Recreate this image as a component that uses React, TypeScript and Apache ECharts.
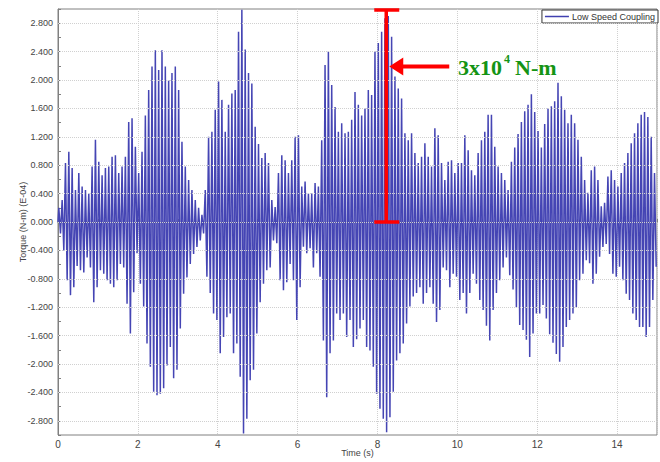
import React, { useEffect, useRef } from "react";
import * as echarts from "echarts";

// Oscillation extremes, 12 cycles per second.
// Positive peaks (E-04 N-m), seconds 0-4, 5-9, 10-14
const peaksA = [
  0.2, 0.31, 0.83, 0.99, 0.76, 0.45, 0.69, 0.5, 0.45, 0.4, 0.78, 1.16,
  0.85, 0.66, 0.76, 0.78, 0.92, 0.94, 0.69, 0.78, 0.92, 1.41, 1.46, 1.06,
  0.69, 0.99, 1.5, 1.86, 2.19, 2.42, 2.14, 2.42, 2.19, 2.0, 2.1, 2.19,
  1.86, 1.13, 0.78, 0.59, 0.45, 0.31, 0.2, 0.1, 0.45, 1.2, 1.27, 1.58,
  1.98, 1.72, 1.27, 1.65, 1.81, 1.86, 2.68, 2.99, 2.43, 2.1, 1.95, 1.34,
];
const peaksB = [
  1.1, 0.9, 0.97, 0.83, 0.31, 0.21, 0.69, 0.94, 0.87, 0.69, 0.87, 1.2,
  1.22, 0.5, 0.57, 0.4, 0.4, 0.55, 0.5, 1.15, 2.21, 2.4, 1.93, 1.62,
  1.27, 1.39, 1.25, 1.27, 1.44, 1.83, 1.65, 1.5, 1.6, 1.86, 1.79, 2.4,
  2.52, 2.68, 2.87, 2.9, 2.61, 2.05, 1.88, 1.74, 1.25, 1.15, 1.25, 0.97,
  0.83, 0.92, 1.11, 0.92, 0.78, 1.32, 1.22, 0.83, 0.59, 0.85, 0.87, 0.69,
];
const peaksC = [
  0.83, 0.83, 1.22, 1.01, 0.73, 0.66, 0.97, 1.15, 1.27, 1.51, 1.51, 1.06,
  0.78, 0.69, 0.59, 0.45, 0.85, 1.05, 1.24, 1.41, 1.56, 1.65, 1.8, 1.55,
  1.28, 1.05, 1.38, 1.6, 1.63, 1.7, 1.96, 1.77, 1.58, 1.39, 1.51, 1.39,
  1.16, 0.92, 0.59, 0.41, 0.73, 0.78, 0.59, 0.22, 0.27, 0.64, 0.73, 0.59,
  0.5, 0.69, 0.83, 0.97, 1.11, 1.25, 1.39, 1.51, 1.55, 1.48, 1.2, 0.69,
];
// Negative troughs
const troughsA = [
  -0.16, -0.4, -0.82, -1.03, -0.92, -0.62, -0.68, -0.71, -0.5, -0.64, -1.13, -0.92,
  -0.68, -0.73, -0.82, -0.87, -0.92, -0.82, -0.59, -0.64, -1.15, -1.57, -0.99, -0.44,
  -0.87, -1.19, -1.71, -2.04, -2.39, -2.44, -2.42, -2.34, -2.02, -1.76, -2.2, -2.08,
  -1.5, -1.01, -0.78, -0.59, -0.45, -0.35, -0.26, -0.16, -0.77, -1.0, -1.29, -1.38,
  -1.85, -1.62, -1.34, -1.29, -1.85, -1.71, -2.18, -2.98, -2.77, -2.23, -2.08, -1.57,
];
const troughsB = [
  -1.13, -0.87, -0.68, -0.64, -0.26, -0.3, -0.82, -0.96, -0.85, -0.59, -0.82, -1.38,
  -0.92, -0.35, -0.44, -0.37, -0.64, -0.44, -0.77, -1.67, -2.47, -1.85, -1.67, -1.29,
  -1.38, -1.29, -1.62, -1.38, -1.76, -1.65, -1.5, -1.38, -1.76, -1.81, -2.04, -2.42,
  -2.63, -2.77, -2.96, -2.75, -2.39, -1.95, -1.85, -1.71, -1.43, -1.19, -1.05, -1.0,
  -0.92, -1.15, -1.0, -0.92, -1.15, -1.41, -1.24, -0.64, -0.68, -0.92, -0.73, -0.77,
];
const troughsC = [
  -1.1, -1.0, -1.29, -1.0, -0.73, -0.87, -1.1, -1.24, -1.46, -1.67, -1.24, -1.0,
  -0.82, -0.64, -0.5, -0.75, -0.95, -1.2, -1.45, -1.52, -1.66, -1.9, -1.57, -1.29,
  -1.29, -1.17, -1.36, -1.58, -1.7, -1.86, -1.97, -1.76, -1.48, -1.38, -1.29, -1.2,
  -0.82, -0.73, -0.54, -0.58, -0.87, -0.73, -0.49, -0.35, -0.31, -0.45, -0.73, -0.77,
  -0.63, -0.82, -1.01, -1.1, -1.29, -1.38, -1.48, -1.48, -1.62, -1.48, -1.1, -0.63,
];

const cyclesPerSecond = 12;
const xTickLabels = [0, 2, 4, 6, 8, 10, 12, 14];
const yGridValues = [-2.8, -2.4, -2.0, -1.6, -1.2, -0.8, -0.4, 0, 0.4, 0.8, 1.2, 1.6, 2.0, 2.4, 2.8];
const seriesName = "Low Speed Coupling";
const annotation = { time: 8.22, from: 0, to: 3.0, arrowAt: 2.19, text: "3x10", sup: "4", unit: "N-m" };

export default function App() {
  const ref = useRef<HTMLDivElement>(null);

  useEffect(() => {
    document.body.style.margin = "0";
    if (!ref.current) return;
    const chart = echarts.init(ref.current, undefined, { renderer: "svg" });

    const peaks = [...peaksA, ...peaksB, ...peaksC];
    const troughs = [...troughsA, ...troughsB, ...troughsC];
    const data: [number, number][] = [[0, 0]];
    for (let k = 0; k < peaks.length; k++) {
      data.push([(k + 0.25) / cyclesPerSecond, peaks[k]]);
      data.push([(k + 0.75) / cyclesPerSecond, troughs[k]]);
    }

    const labelFont = { fontFamily: "Liberation Sans, Arial, sans-serif", fontSize: 9, color: "#444" };

    chart.setOption({
      animation: false,
      backgroundColor: "#fff",
      grid: {
        left: 58,
        right: 1,
        top: 9,
        bottom: 26,
        show: true,
        borderColor: "#808080",
        borderWidth: 1,
      },
      legend: {
        right: 2,
        top: 10,
        data: [seriesName],
        icon: "rect",
        itemWidth: 24,
        itemHeight: 1.5,
        itemGap: 4,
        padding: [2, 3, 2, 3],
        borderColor: "#333",
        borderWidth: 1,
        backgroundColor: "#fff",
        textStyle: { ...labelFont, color: "#333", padding: [0, 0, 0, -2] },
      },
      xAxis: {
        type: "value",
        min: 0,
        max: 15,
        interval: 2,
        name: "Time (s)",
        nameLocation: "middle",
        nameGap: 13,
        nameMoveOverlap: false,
        nameTextStyle: labelFont,
        axisLine: { lineStyle: { color: "#808080" } },
        axisTick: { inside: true, length: 3, lineStyle: { color: "#808080" } },
        minorTick: { show: true, splitNumber: 2, length: 3, lineStyle: { color: "#808080" } },
        axisLabel: {
          ...labelFont,
          fontSize: 10,
          margin: 4,
          formatter: (v: number) => (xTickLabels.includes(v) ? String(v) : ""),
        },
        splitLine: { show: true, lineStyle: { color: "#d0d0d0", type: "dotted" } },
      },
      yAxis: {
        type: "value",
        min: -3,
        max: 3,
        interval: 0.2,
        name: "Torque (N-m) (E-04)",
        nameLocation: "middle",
        nameGap: 31,
        nameRotate: 90,
        nameMoveOverlap: false,
        nameTextStyle: labelFont,
        axisLine: { show: true, lineStyle: { color: "#808080" } },
        axisTick: { show: true, inside: true, length: 3, lineStyle: { color: "#808080" } },
        axisLabel: {
          ...labelFont,
          margin: 5,
          formatter: (v: number) => {
            const q = v / 0.4;
            if (Math.abs(q - Math.round(q)) > 1e-6 || Math.abs(v) > 2.9) return "";
            return (Math.abs(v) < 1e-9 ? 0 : v).toFixed(3);
          },
        },
        splitLine: { show: false },
      },
      series: [
        {
          name: "grid",
          type: "line",
          data: [],
          z: 1,
          silent: true,
          markLine: {
            silent: true,
            symbol: "none",
            label: { show: false },
            lineStyle: { color: "#d0d0d0", type: "dotted", width: 1 },
            data: yGridValues.map((v) => ({ yAxis: v })),
          },
        },
        {
          name: seriesName,
          type: "line",
          data,
          z: 3,
          showSymbol: false,
          symbol: "none",
          color: "#4040b0",
          lineStyle: { color: "#4545b4", width: 1.5 },
        },
      ],
    });

    const px = (x: number, y: number) => chart.convertToPixel({ gridIndex: 0 }, [x, y]) as number[];
    const top = px(annotation.time, annotation.to);
    const bot = px(annotation.time, annotation.from);
    const ay = px(annotation.time, annotation.arrowAt)[1];
    const bx = top[0];
    const red = "#ff0000";
    const green = "#149414";
    const serif = "Liberation Serif, Times New Roman, serif";

    chart.setOption({
      graphic: [
        { type: "line", z: 100, shape: { x1: bx, y1: top[1] + 1, x2: bx, y2: bot[1] }, style: { stroke: red, lineWidth: 3.5 } },
        { type: "line", z: 100, shape: { x1: bx - 12, y1: top[1] + 1, x2: bx + 13, y2: top[1] + 1 }, style: { stroke: red, lineWidth: 3.5 } },
        { type: "line", z: 100, shape: { x1: bx - 12, y1: bot[1], x2: bx + 13, y2: bot[1] }, style: { stroke: red, lineWidth: 3.5 } },
        { type: "polygon", z: 100, shape: { points: [[bx + 3, ay], [bx + 17, ay - 9], [bx + 17, ay + 9]] }, style: { fill: red } },
        { type: "rect", z: 100, shape: { x: bx + 16, y: ay - 2, width: 47, height: 4 }, style: { fill: red } },
        {
          type: "text", z: 100, x: 458, y: ay + 1,
          style: { text: annotation.text, fill: green, font: `bold 22px ${serif}`, verticalAlign: "middle" },
        },
        {
          type: "text", z: 100, x: 504, y: ay - 8,
          style: { text: annotation.sup, fill: green, font: `bold 12px ${serif}`, verticalAlign: "middle" },
        },
        {
          type: "text", z: 100, x: 515, y: ay + 1,
          style: { text: annotation.unit, fill: green, font: `bold 22px ${serif}`, verticalAlign: "middle" },
        },
      ],
    });

    return () => chart.dispose();
  }, []);

  return <div ref={ref} style={{ width: 660, height: 462 }} />;
}
